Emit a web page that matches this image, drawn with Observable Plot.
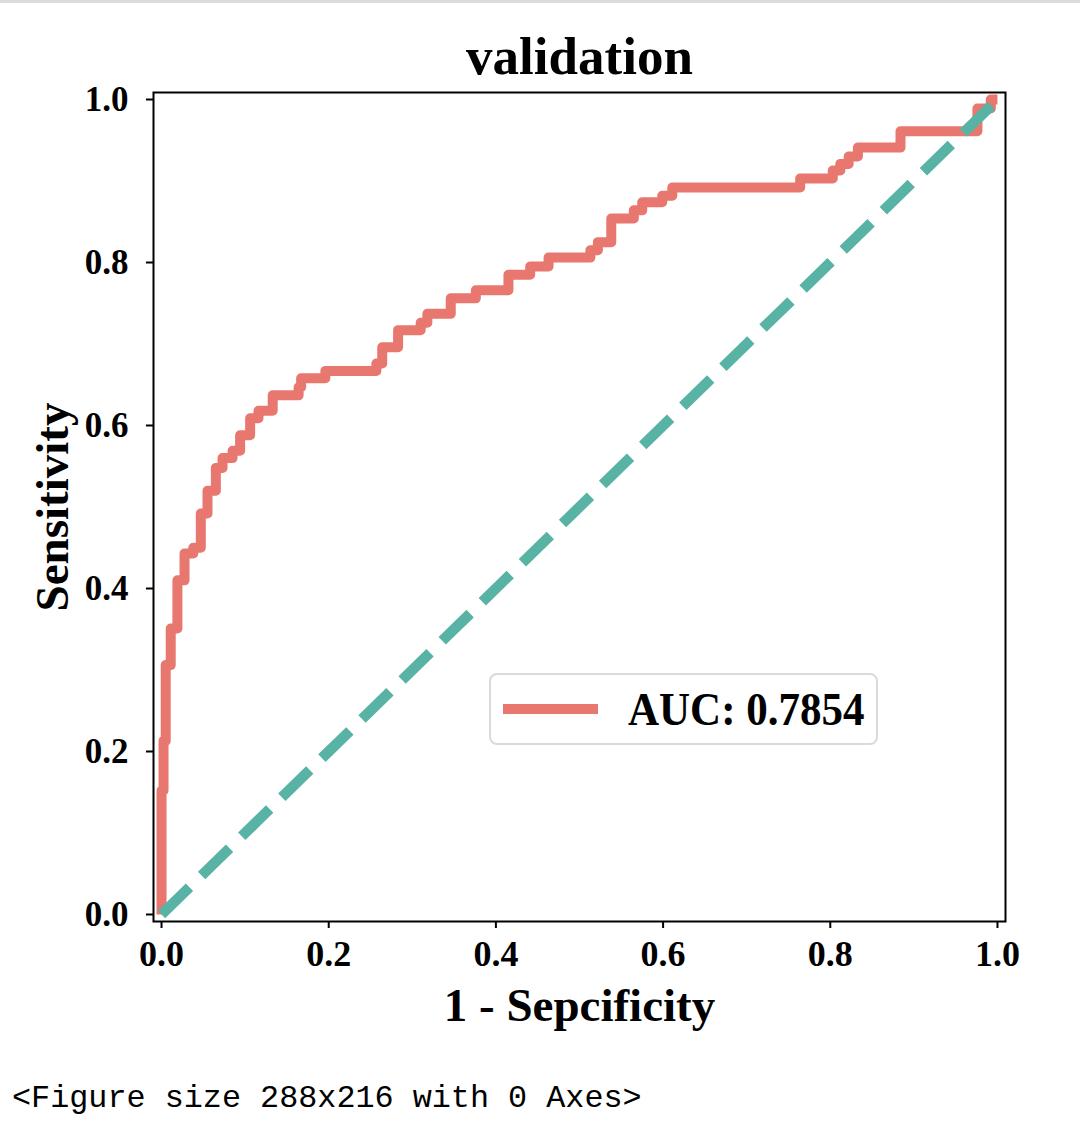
<!DOCTYPE html>
<html>
<head>
<meta charset="utf-8">
<script src="https://cdn.jsdelivr.net/npm/d3@7"></script>
<script src="https://cdn.jsdelivr.net/npm/@observablehq/plot@0.6"></script>
<style>
  html, body { margin: 0; padding: 0; background: #fff; }
  #wrap { position: relative; width: 1080px; height: 1137px; overflow: hidden; background: #fff; }
  #topbar { position: absolute; left: 0; top: 0; width: 1080px; height: 3px; background: #dcdcdc; }
  #chart { position: absolute; left: 0; top: 0; }
  #legend { position: absolute; left: 489px; top: 673px; width: 389px; height: 72px; box-sizing: border-box;
            border: 2px solid #dadada; border-radius: 8px; background: rgba(255,255,255,0.85);
            display: flex; align-items: center; }
  #legend .swatch { margin-left: 12px; width: 95px; height: 10px; }
  #legend .lab { margin-left: 30px; font-family: "Liberation Serif", "Times New Roman", serif; font-weight: bold;
                 font-size: 43px; color: #000; line-height: 1; transform: scaleY(1.08); }
  #caption { position: absolute; left: 12px; top: 1081px; font-family: "Liberation Mono", "DejaVu Sans Mono", monospace;
             font-size: 31.8px; color: #000; white-space: pre; }
</style>
</head>
<body>
<div id="wrap">
  <div id="topbar"></div>
  <div id="chart"></div>
  <div id="legend"><div class="swatch"></div><div class="lab"></div></div>
  <div id="caption"></div>
</div>
<script>
// ---- data ----
const fpr = [0, 0, 0.0024, 0.0024, 0.005, 0.005, 0.011, 0.011, 0.019, 0.019, 0.0275, 0.0275,
  0.038, 0.038, 0.047, 0.047, 0.055, 0.055, 0.065, 0.065, 0.073, 0.073, 0.085, 0.085,
  0.094, 0.094, 0.106, 0.106, 0.116, 0.116, 0.133, 0.133, 0.164, 0.164, 0.167, 0.167,
  0.196, 0.196, 0.257, 0.257, 0.264, 0.264, 0.283, 0.283, 0.310, 0.310, 0.318, 0.318,
  0.346, 0.346, 0.376, 0.376, 0.415, 0.415, 0.441, 0.441, 0.463, 0.463, 0.513, 0.513,
  0.522, 0.522, 0.538, 0.538, 0.565, 0.565, 0.575, 0.575, 0.599, 0.599, 0.611, 0.611,
  0.764, 0.764, 0.803, 0.803, 0.812, 0.812, 0.822, 0.822, 0.833, 0.833, 0.884, 0.884,
  0.976, 0.976, 0.992, 0.992, 1];
const tpr = [0, 0.152, 0.152, 0.213, 0.213, 0.306, 0.306, 0.351, 0.351, 0.410, 0.410, 0.443,
  0.443, 0.450, 0.450, 0.492, 0.492, 0.520, 0.520, 0.548, 0.548, 0.560, 0.560, 0.569,
  0.569, 0.588, 0.588, 0.609, 0.609, 0.618, 0.618, 0.637, 0.637, 0.647, 0.647, 0.658,
  0.658, 0.667, 0.667, 0.676, 0.676, 0.696, 0.696, 0.717, 0.717, 0.726, 0.726, 0.737,
  0.737, 0.756, 0.756, 0.766, 0.766, 0.785, 0.785, 0.795, 0.795, 0.806, 0.806, 0.815,
  0.815, 0.825, 0.825, 0.854, 0.854, 0.864, 0.864, 0.874, 0.874, 0.882, 0.882, 0.892,
  0.892, 0.903, 0.903, 0.913, 0.913, 0.921, 0.921, 0.930, 0.930, 0.941, 0.941, 0.961,
  0.961, 0.989, 0.989, 1.0, 1];
const chanceX = [0, 1];
const chanceY = [0, 1];
const xTicks = [0, 0.2, 0.4, 0.6, 0.8, 1.0];
const yTicks = [0, 0.2, 0.4, 0.6, 0.8, 1.0];
const titleText = "validation";
const xLabel = "1 - Sepcificity";
const yLabel = "Sensitivity";
const legendLabel = "AUC: 0.7854";
const captionText = "<Figure size 288x216 with 0 Axes>";

const rocColor = "#e8786f";
const chanceColor = "#58b3a5";
const serif = "'Liberation Serif', 'Times New Roman', serif";

const roc = fpr.map((x, i) => ({x, y: tpr[i]}));
const chance = chanceX.map((x, i) => ({x, y: chanceY[i]}));

const chart = Plot.plot({
  width: 1080,
  height: 1060,
  marginLeft: 153,
  marginRight: 75,
  marginTop: 92,
  marginBottom: 139,
  x: {domain: [-0.0096, 1.0096]},
  y: {domain: [-0.0086, 1.0086]},
  style: {fontFamily: serif, fontWeight: "bold", background: "transparent", color: "#000"},
  marks: [
    Plot.line(roc, {x: "x", y: "y", stroke: rocColor, strokeWidth: 10, strokeLinejoin: "round", strokeLinecap: "butt"}),
    Plot.line(chance, {x: "x", y: "y", stroke: chanceColor, strokeWidth: 10.5, strokeDasharray: "39,17", strokeLinecap: "butt"}),
    Plot.frame({stroke: "#000", strokeWidth: 2}),
    Plot.axisX({ticks: xTicks, tickSize: 7, tickPadding: 12, tickFormat: d3.format(".1f"), fontSize: 36, fontWeight: "bold", label: null, strokeWidth: 2}),
    Plot.axisY({ticks: yTicks, tickSize: 7, tickPadding: 18, tickFormat: d3.format(".1f"), fontSize: 35, fontWeight: "bold", label: null, strokeWidth: 2}),
    Plot.text([titleText], {frameAnchor: "top", dy: -35, fontSize: 53, fontWeight: "bold", lineAnchor: "middle", fill: "#000"}),
    Plot.text([xLabel], {frameAnchor: "bottom", dy: 84, fontSize: 47, fontWeight: "bold", lineAnchor: "middle", fill: "#000"}),
    Plot.text([yLabel], {frameAnchor: "left", dx: -101, rotate: -90, fontSize: 47, fontWeight: "bold", lineAnchor: "middle", textAnchor: "middle", fill: "#000"})
  ]
});
document.getElementById("chart").appendChild(chart);
document.querySelector("#legend .swatch").style.background = rocColor;
document.querySelector("#legend .lab").textContent = legendLabel;
document.getElementById("caption").textContent = captionText;
</script>
</body>
</html>
